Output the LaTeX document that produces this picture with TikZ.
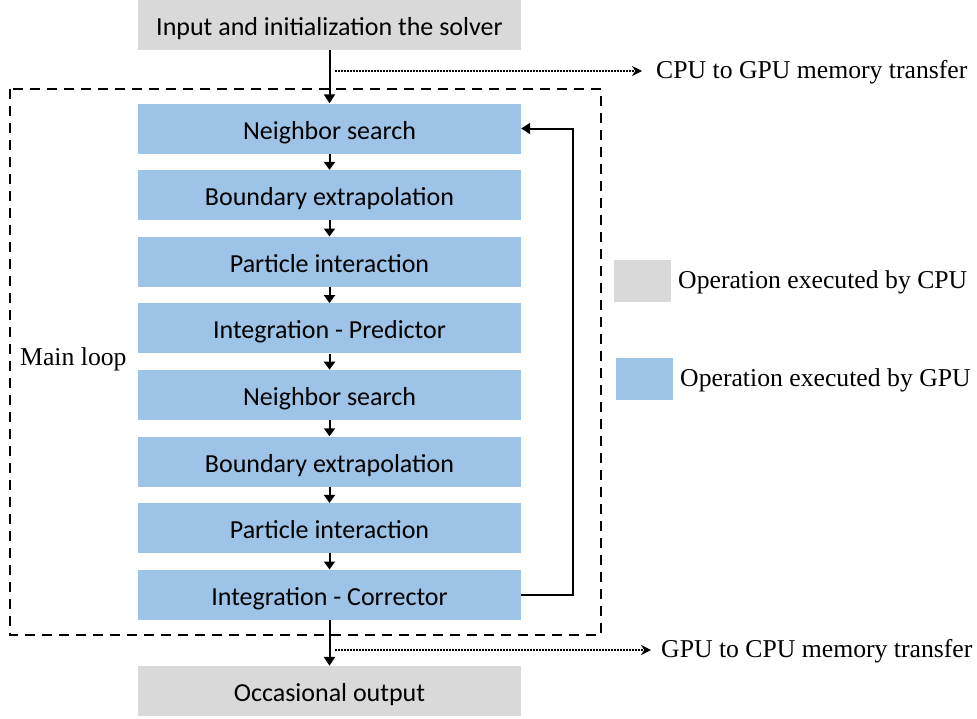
\documentclass[tikz,border=0pt]{standalone}
\usepackage{fontspec}
\setmainfont{Liberation Serif}
\newfontfamily\boxfont{Carlito}
\usetikzlibrary{arrows.meta}
\definecolor{cpugray}{HTML}{D9D9D9}
\definecolor{gpublue}{HTML}{9DC3E6}
\tikzset{
  x=1pt, y=-1pt,
  opbox/.style={minimum width=383pt, minimum height=50pt, inner sep=0pt,
    text height=21pt, text depth=0pt,
    font=\boxfont\fontsize{26}{30}\selectfont},
  cpubox/.style={opbox, fill=cpugray},
  gpubox/.style={opbox, fill=gpublue},
  arr/.style={line width=2pt, -{Triangle[length=9pt,width=11pt]}},
  sarr/.style={line width=2pt, -{Triangle[length=8pt,width=11pt]}},
  dotarr/.style={line width=1.5pt, dash pattern=on 1.5pt off 1.5pt, -{Stealth[length=10pt,width=10pt]}},
  lbl/.style={font=\fontsize{25.7}{30}\selectfont, inner sep=0pt, anchor=west},
  legsq/.style={minimum width=57pt, minimum height=42pt, inner sep=0pt},
}
\begin{document}
\begin{tikzpicture}
\useasboundingbox (0,0) rectangle (977,718);
% dashed frame
\draw[line width=2pt, dash pattern=on 10pt off 7pt] (10,89) rectangle (601,635);
\node[lbl] (ml) at (20,359) {Main loop};
% boxes
\node[cpubox] (in) at (329.5,25) {Input and initialization the solver};
\node[gpubox] (b1) at (329.5,128.5) {Neighbor search};
\node[gpubox] (b2) at (329.5,195.1) {Boundary extrapolation};
\node[gpubox] (b3) at (329.5,261.7) {Particle interaction};
\node[gpubox] (b4) at (329.5,328.3) {Integration - Predictor};
\node[gpubox] (b5) at (329.5,394.9) {Neighbor search};
\node[gpubox] (b6) at (329.5,461.5) {Boundary extrapolation};
\node[gpubox] (b7) at (329.5,528.1) {Particle interaction};
\node[gpubox] (b8) at (329.5,594.7) {Integration - Corrector};
\node[cpubox] (out) at (329.5,691) {Occasional output};
% arrows
\draw[arr] (in.south) -- (b1.north);
\foreach \a/\b in {b1/b2,b2/b3,b3/b4,b4/b5,b5/b6,b6/b7,b7/b8}
  \draw[sarr] (\a.south) -- (\b.north);
\draw[arr] (b8.south) -- (out.north);
\draw[arr] (b8.east) -- ++(52,0) |- (b1.east);
% transfers
\node[lbl] (c2g) at (656,72) {CPU to GPU memory transfer};
\node[lbl] (g2c) at (661,651) {GPU to CPU memory transfer};
\coordinate (t1) at (335,71);
\coordinate (t2) at (335,650);
\draw[dotarr] (t1) -- ([xshift=-14pt]c2g.west |- t1);
\draw[dotarr] (t2) -- ([xshift=-10pt]g2c.west |- t2);
% legend
\node[legsq, fill=cpugray] (lg1) at (642,281) {};
\node[legsq, fill=gpublue] (lg2) at (644.5,379) {};
\node[lbl] (lt1) at (678,282) {Operation executed by CPU};
\node[lbl] (lt2) at (680,380) {Operation executed by GPU};
\end{tikzpicture}
\end{document}
